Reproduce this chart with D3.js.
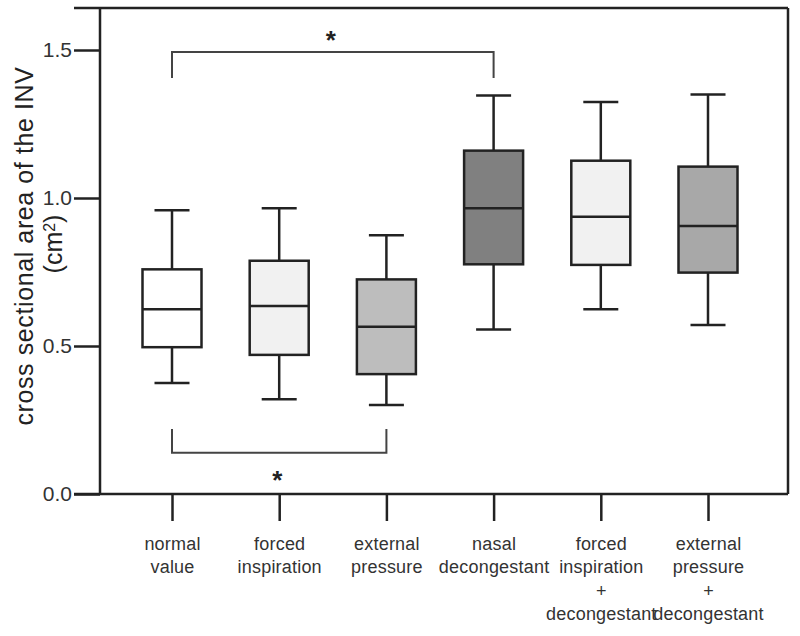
<!DOCTYPE html>
<html>
<head>
<meta charset="utf-8">
<script src="https://cdn.jsdelivr.net/npm/d3@7"></script>
<style>
	body { margin: 0; background: #fff; }
	svg { display: block; font-family: 'Liberation Sans', Arial, sans-serif; }
</style>
</head>
<body>
<div id="chart"></div>
<script>

var categories = ['normal value', 'forced inspiration', 'external pressure',
	'nasal decongestant', 'forced inspiration + decongestant', 'external pressure + decongestant'];
var catLabels = [
	['normal', 'value'],
	['forced', 'inspiration'],
	['external', 'pressure'],
	['nasal', 'decongestant'],
	['forced', 'inspiration', '+', 'decongestant'],
	['external', 'pressure', '+', 'decongestant']
];
var whiskerLow = [0.375, 0.320, 0.301, 0.556, 0.624, 0.571];
var q1 = [0.496, 0.470, 0.405, 0.776, 0.774, 0.748];
var median = [0.624, 0.635, 0.565, 0.965, 0.937, 0.905];
var q3 = [0.759, 0.788, 0.725, 1.160, 1.126, 1.106];
var whiskerHigh = [0.959, 0.965, 0.874, 1.346, 1.324, 1.350];
var boxFills = ['#ffffff', '#f1f1f1', '#bdbdbd', '#808080', '#f1f1f1', '#a8a8a8'];
var yTicks = [0, 0.5, 1.0, 1.5];

// significance brackets: [from, to, bar level, end level, star level]
var brackets = [
	{ from: 0, to: 3, bar: 1.493, end: 1.405, star: 1.555 },
	{ from: 0, to: 2, bar: 0.139, end: 0.220, star: 0.068 }
];

var W = 800, H = 636;
var frame = { left: 100, right: 788, top: 8, bottom: 494, ext: 74 };
var boxW = 59, capW = 35;
var lineCol = '#222', textCol = '#333';

var svg = d3.select('#chart').append('svg')
	.attr('width', W)
	.attr('height', H);

var y = d3.scaleLinear()
	.domain([0, 1.5])
	.range([frame.bottom, 50]);

var x = d3.scalePoint()
	.domain(categories)
	.range([172, 708]);

//frame
svg.append('line')
	.attr('x1', frame.ext).attr('x2', frame.right)
	.attr('y1', frame.top).attr('y2', frame.top)
	.attr('stroke', lineCol).attr('stroke-width', 2.5);
svg.append('line')
	.attr('x1', frame.ext).attr('x2', frame.right)
	.attr('y1', frame.bottom).attr('y2', frame.bottom)
	.attr('stroke', lineCol).attr('stroke-width', 2.5);
svg.append('line')
	.attr('x1', frame.left).attr('x2', frame.left)
	.attr('y1', frame.top).attr('y2', frame.bottom)
	.attr('stroke', lineCol).attr('stroke-width', 2.5);
svg.append('line')
	.attr('x1', frame.right).attr('x2', frame.right)
	.attr('y1', frame.top).attr('y2', frame.bottom)
	.attr('stroke', lineCol).attr('stroke-width', 2.5);

//y axis
var yAxis = svg.append('g')
	.attr('transform', 'translate(' + frame.left + ',0)')
	.call(d3.axisLeft(y).tickValues(yTicks).tickSize(26).tickPadding(2).tickFormat(d3.format('.1f')));
yAxis.select('.domain').remove();
yAxis.selectAll('.tick line').attr('stroke', lineCol).attr('stroke-width', 2.5);
yAxis.selectAll('.tick text')
	.attr('fill', textCol)
	.style('font-size', '21px')
	.style('font-family', "'Liberation Sans', Arial, sans-serif");

//x axis
var xAxis = svg.append('g')
	.attr('transform', 'translate(0,' + frame.bottom + ')')
	.call(d3.axisBottom(x).tickSize(27).tickFormat(''));
xAxis.select('.domain').remove();
xAxis.selectAll('.tick line').attr('stroke', lineCol).attr('stroke-width', 2.5);
xAxis.selectAll('.tick').each(function (d, i) {
	var t = d3.select(this).append('text')
		.attr('text-anchor', 'middle')
		.attr('fill', textCol)
		.style('font-size', '18px')
		.style('letter-spacing', '0.2px')
		.style('font-family', "'Liberation Sans', Arial, sans-serif")
		.attr('y', 56);
	catLabels[i].forEach(function (s, j) {
		t.append('tspan').attr('x', 0).attr('dy', j === 0 ? 0 : 23.3).text(s);
	});
});

//boxes
categories.forEach(function (c, i) {
	var cx = x(c);
	var g = svg.append('g').attr('class', 'box');
	g.append('line')
		.attr('x1', cx).attr('x2', cx)
		.attr('y1', y(whiskerLow[i])).attr('y2', y(q1[i]))
		.attr('stroke', lineCol).attr('stroke-width', 2.5);
	g.append('line')
		.attr('x1', cx).attr('x2', cx)
		.attr('y1', y(q3[i])).attr('y2', y(whiskerHigh[i]))
		.attr('stroke', lineCol).attr('stroke-width', 2.5);
	[whiskerLow[i], whiskerHigh[i]].forEach(function (v) {
		g.append('line')
			.attr('x1', cx - capW / 2).attr('x2', cx + capW / 2)
			.attr('y1', y(v)).attr('y2', y(v))
			.attr('stroke', lineCol).attr('stroke-width', 2.5);
	});
	g.append('rect')
		.attr('x', cx - boxW / 2)
		.attr('y', y(q3[i]))
		.attr('width', boxW)
		.attr('height', y(q1[i]) - y(q3[i]))
		.attr('fill', boxFills[i])
		.attr('stroke', lineCol).attr('stroke-width', 2.5);
	g.append('line')
		.attr('x1', cx - boxW / 2).attr('x2', cx + boxW / 2)
		.attr('y1', y(median[i])).attr('y2', y(median[i]))
		.attr('stroke', lineCol).attr('stroke-width', 2.5);
});

//brackets + stars
brackets.forEach(function (b) {
	var x1 = x(categories[b.from]), x2 = x(categories[b.to]);
	svg.append('path')
		.attr('d', 'M' + x1 + ',' + y(b.end) + 'V' + y(b.bar) + 'H' + x2 + 'V' + y(b.end))
		.attr('fill', 'none')
		.attr('stroke', '#444').attr('stroke-width', 2);
	svg.append('text')
		.attr('x', (x1 + x2) / 2 - 2)
		.attr('y', y(b.star) + 15)
		.attr('text-anchor', 'middle')
		.attr('fill', '#222')
		.style('font-size', '26px')
		.style('font-weight', 'bold')
		.text('*');
});

//y title
svg.append('text')
	.attr('transform', 'translate(33,246) rotate(-90)')
	.attr('text-anchor', 'middle')
	.attr('fill', '#222')
	.style('font-size', '25px')
	.style('letter-spacing', '0.6px')
	.text('cross sectional area of the INV');
var t2 = svg.append('text')
	.attr('transform', 'translate(62,244) rotate(-90)')
	.attr('text-anchor', 'middle')
	.attr('fill', '#222')
	.style('font-size', '25px');
t2.append('tspan').text('(cm');
t2.append('tspan').attr('dy', '-0.45em').style('font-size', '16px').text('2');
t2.append('tspan').attr('dy', '0.3em').text(')');

</script>
</body>
</html>
